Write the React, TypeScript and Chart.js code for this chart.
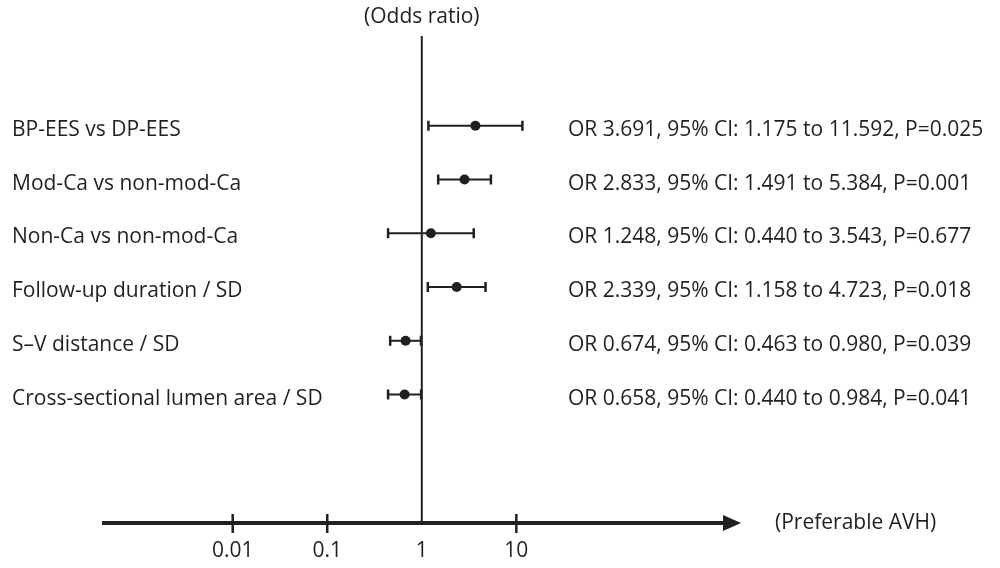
import React, { useEffect, useRef } from "react";
import { Chart, registerables } from "chart.js";

Chart.register(...registerables);

const categories = [
  "BP-EES vs DP-EES",
  "Mod-Ca vs non-mod-Ca",
  "Non-Ca vs non-mod-Ca",
  "Follow-up duration / SD",
  "S–V distance / SD",
  "Cross-sectional lumen area / SD",
];
const oddsRatios = [3.691, 2.833, 1.248, 2.339, 0.674, 0.658];
const ciLower = [1.175, 1.491, 0.44, 1.158, 0.463, 0.44];
const ciUpper = [11.592, 5.384, 3.543, 4.723, 0.98, 0.984];
const pValues = ["0.025", "0.001", "0.677", "0.018", "0.039", "0.041"];
const xTicks = [0.01, 0.1, 1, 10];
const xTickLabels = ["0.01", "0.1", "1", "10"];
const xTitle = "(Odds ratio)";
const arrowLabel = "(Preferable AVH)";

const INK = "#231f20";
const FONT = '21px "Open Sans", sans-serif';

const forestPlugin = {
  id: "forest",
  beforeDatasetsDraw(chart: any) {
    const ctx = chart.ctx;
    const xs = chart.scales.x;
    const ys = chart.scales.y;
    const axisY = 523;
    const x1 = xs.getPixelForValue(1);
    ctx.save();
    ctx.strokeStyle = INK;
    ctx.fillStyle = INK;
    // reference line at OR = 1
    ctx.lineWidth = 2;
    ctx.beginPath();
    ctx.moveTo(x1, 36);
    ctx.lineTo(x1, axisY);
    ctx.stroke();
    // axis with arrow
    ctx.lineWidth = 4;
    ctx.beginPath();
    ctx.moveTo(102, axisY);
    ctx.lineTo(728, axisY);
    ctx.stroke();
    ctx.beginPath();
    ctx.moveTo(723, axisY - 8);
    ctx.lineTo(741, axisY);
    ctx.lineTo(723, axisY + 8);
    ctx.closePath();
    ctx.fill();
    // ticks
    ctx.lineWidth = 2.5;
    xTicks.forEach((t) => {
      const px = xs.getPixelForValue(t);
      if (t !== 1) {
        ctx.beginPath();
        ctx.moveTo(px, axisY - 9);
        ctx.lineTo(px, axisY + 10);
        ctx.stroke();
      }
    });
    // error bars
    oddsRatios.forEach((_, i) => {
      const y = ys.getPixelForValue(i);
      const lo = xs.getPixelForValue(ciLower[i]);
      const hi = xs.getPixelForValue(ciUpper[i]);
      ctx.lineWidth = 2;
      ctx.beginPath();
      ctx.moveTo(lo, y);
      ctx.lineTo(hi, y);
      ctx.stroke();
      ctx.lineWidth = 2.5;
      ctx.beginPath();
      ctx.moveTo(lo, y - 5);
      ctx.lineTo(lo, y + 5);
      ctx.moveTo(hi, y - 5);
      ctx.lineTo(hi, y + 5);
      ctx.stroke();
    });
    ctx.restore();
  },
  afterDraw(chart: any) {
    const ctx = chart.ctx;
    const xs = chart.scales.x;
    const ys = chart.scales.y;
    ctx.save();
    ctx.fillStyle = INK;
    ctx.font = FONT;
    ctx.textBaseline = "alphabetic";
    ctx.textAlign = "left";
    categories.forEach((c, i) => {
      const y = ys.getPixelForValue(i) + 10;
      ctx.fillText(c, 12, y);
      const s = `OR ${oddsRatios[i].toFixed(3)}, 95% CI: ${ciLower[i].toFixed(3)} to ${ciUpper[i].toFixed(3)}, P=${pValues[i]}`;
      ctx.fillText(s, 568, y);
    });
    ctx.textAlign = "center";
    xTicks.forEach((t, i) => {
      ctx.fillText(xTickLabels[i], xs.getPixelForValue(t), 557);
    });
    ctx.textBaseline = "middle";
    ctx.fillText(xTitle, xs.getPixelForValue(1), 17);
    ctx.textAlign = "left";
    ctx.fillText(arrowLabel, 775, 523);
    ctx.restore();
  },
};

// log x: 1 -> 421px, 95.5px per decade over a 1000px wide chart area
const PX_PER_DECADE = 95.5;
const X_ONE = 421;
const xMin = Math.pow(10, -X_ONE / PX_PER_DECADE);
const xMax = Math.pow(10, (1000 - X_ONE) / PX_PER_DECADE);
// rows: first at 123px, 54.7px apart over a 568px tall area
const ROW0 = 123;
const ROW_GAP = 54.7;
const yMin = -ROW0 / ROW_GAP;
const yMax = yMin + 568 / ROW_GAP;

export default function App() {
  const ref = useRef<HTMLCanvasElement>(null);
  useEffect(() => {
    if (!ref.current) return;
    const chart = new Chart(ref.current, {
      type: "scatter",
      data: {
        datasets: [
          {
            data: oddsRatios.map((v, i) => ({ x: v, y: i })),
            backgroundColor: INK,
            borderColor: INK,
            pointRadius: 5,
            pointHoverRadius: 5,
            borderWidth: 0,
          },
        ],
      },
      options: {
        animation: false,
        responsive: false,
        devicePixelRatio: 1,
        layout: { padding: 0 },
        plugins: { legend: { display: false }, tooltip: { enabled: false } },
        scales: {
          x: { type: "logarithmic", min: xMin, max: xMax, display: false },
          y: { type: "linear", min: yMin, max: yMax, reverse: true, display: false },
        },
      },
      plugins: [forestPlugin],
    });
    return () => chart.destroy();
  }, []);
  return (
    <div style={{ position: "fixed", left: 0, top: 0, width: 1000, height: 568, background: "#fff" }}>
      <canvas ref={ref} width={1000} height={568} style={{ width: 1000, height: 568 }} />
    </div>
  );
}
